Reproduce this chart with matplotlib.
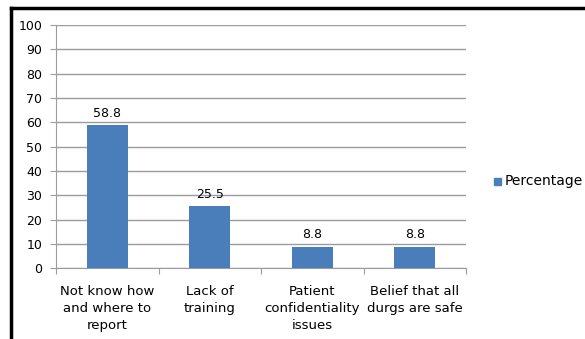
import matplotlib
matplotlib.use("Agg")
import matplotlib.pyplot as plt
from matplotlib.patches import Rectangle
from matplotlib.lines import Line2D

# Données
categories = ["Not know how\nand where to\nreport", "Lack of\ntraining",
              "Patient\nconfidentiality\nissues", "Belief that all\ndurgs are safe"]
percentages = [58.8, 25.5, 8.8, 8.8]
y_ticks = list(range(0, 101, 10))
series_name = "Percentage"

bar_color = "#4a7ebb"
grid_color = "#9c9c9c"

plt.rcParams['font.family'] = ['DejaVu Sans']

fig = plt.figure(figsize=(5.85, 3.39), dpi=100)
ax = fig.add_axes([0.0957, 0.209, 0.701, 0.717])

x = list(range(len(categories)))
bars = ax.bar(x, percentages, width=0.4, color=bar_color, zorder=3)

ax.set_xlim(-0.5, len(categories) - 0.5)
ax.set_ylim(0, 100)
ax.set_yticks(y_ticks)
ax.set_yticklabels([str(t) for t in y_ticks], fontsize=9)
ax.yaxis.grid(True, color=grid_color, linewidth=1.0, zorder=0)

# graduations de catégorie entre les barres
ax.set_xticks([i - 0.5 for i in range(len(categories) + 1)])
ax.set_xticklabels([])
ax.set_xticks(x, minor=True)
ax.set_xticklabels(categories, minor=True, fontsize=9.5, linespacing=1.4)
ax.tick_params(axis='x', which='minor', length=0, pad=12)
ax.tick_params(axis='x', which='major', length=4, color=grid_color)
ax.tick_params(axis='y', length=4, color=grid_color, pad=6)

for side in ["top", "right"]:
    ax.spines[side].set_visible(False)
for side in ["left", "bottom"]:
    ax.spines[side].set_color(grid_color)

for b, v in zip(bars, percentages):
    ax.annotate(f"{v}", (b.get_x() + b.get_width() / 2, v), xytext=(0, 4),
                textcoords="offset points", ha="center", va="bottom", fontsize=9)

# légende à droite
fig.patches.append(Rectangle((494 / 585, 1 - 185 / 339), 7 / 585, 7 / 339,
                             transform=fig.transFigure, color=bar_color))
fig.text(505 / 585, 1 - 181 / 339, series_name, fontsize=10, va="center", ha="left")

# cadre noir (haut et gauche)
fig.lines.append(Line2D([11 / 585, 11 / 585], [0, 1 - 8 / 339], transform=fig.transFigure,
                        color="black", linewidth=2.5))
fig.lines.append(Line2D([11 / 585, 1], [1 - 8 / 339, 1 - 8 / 339], transform=fig.transFigure,
                        color="black", linewidth=2.5))

fig.savefig("out.png", dpi=100)
